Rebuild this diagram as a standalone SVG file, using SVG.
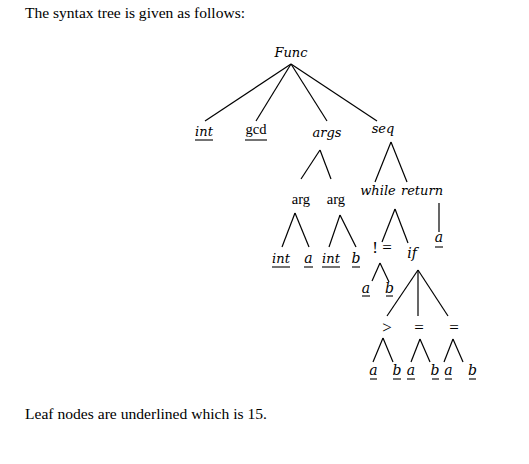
<svg xmlns="http://www.w3.org/2000/svg" width="529" height="464" viewBox="0 0 529 464">
<style>
.t{font-family:"Liberation Serif","Times New Roman",serif;font-size:14.5px;fill:#000}
.i{font-family:"DejaVu Serif",serif;font-style:italic;font-size:13px;fill:#000;text-anchor:middle}
.l{font-family:"DejaVu Serif",serif;font-style:italic;font-size:14px;fill:#000;text-anchor:middle}
.r{font-family:"Liberation Serif","Times New Roman",serif;font-size:14.5px;fill:#000;text-anchor:middle}
.s{font-family:"Liberation Serif","Times New Roman",serif;font-size:17px;fill:#000;text-anchor:middle}
.e line{stroke:#000;stroke-width:1.2;fill:none}
.u{stroke:#000;stroke-width:1.1}
</style>
<rect width="529" height="464" fill="#fff"/>
<text class="t" x="25" y="18" textLength="220" lengthAdjust="spacingAndGlyphs">The syntax tree is  given as follows:</text>
<text class="t" x="25" y="419" textLength="242" lengthAdjust="spacingAndGlyphs">Leaf nodes are underlined which is 15.</text>
<g class="e" id="connectors">
<line x1="291" y1="64" x2="205" y2="121"/>
<line x1="291" y1="64" x2="256" y2="121"/>
<line x1="291" y1="64" x2="327" y2="121"/>
<line x1="291" y1="64" x2="377" y2="121"/>
<line x1="320" y1="150" x2="301" y2="179"/>
<line x1="320" y1="150" x2="331" y2="179"/>
<line x1="295" y1="213" x2="282" y2="247"/>
<line x1="295" y1="213" x2="309" y2="247"/>
<line x1="340" y1="215" x2="329" y2="247"/>
<line x1="340" y1="215" x2="356" y2="247"/>
<line x1="391" y1="142" x2="375" y2="182"/>
<line x1="391" y1="142" x2="407" y2="182"/>
<line x1="395" y1="209" x2="382" y2="242"/>
<line x1="395" y1="209" x2="408" y2="243"/>
<line x1="439" y1="203" x2="439" y2="232"/>
<line x1="380" y1="263" x2="372" y2="281"/>
<line x1="380" y1="263" x2="389" y2="282"/>
<line x1="418" y1="270" x2="387" y2="316"/>
<line x1="418" y1="270" x2="418" y2="316"/>
<line x1="418" y1="270" x2="448" y2="316"/>
<line x1="383" y1="338" x2="373" y2="362"/>
<line x1="383" y1="338" x2="393" y2="362"/>
<line x1="420" y1="339" x2="411" y2="362"/>
<line x1="420" y1="339" x2="430" y2="362"/>
<line x1="453" y1="339" x2="444" y2="362"/>
<line x1="453" y1="339" x2="463" y2="362"/>
</g>
<g id="n-func"><text class="i" x="291" y="57">Func</text></g>
<g id="n-int1"><text class="i" x="204" y="136">int</text><line class="u" x1="195" y1="140" x2="213" y2="140"/></g>
<g id="n-gcd"><text class="r" x="256" y="134">gcd</text><line class="u" x1="245" y1="140" x2="267" y2="140"/></g>
<g id="n-args"><text class="i" x="327" y="137">args</text></g>
<g id="n-seq"><text class="i" x="383" y="133">seq</text></g>
<g id="n-arg1"><text class="r" x="301" y="204">arg</text></g>
<g id="n-arg2"><text class="r" x="336" y="204">arg</text></g>
<g id="n-int2"><text class="i" x="281" y="263">int</text><line class="u" x1="272" y1="267" x2="290" y2="267"/></g>
<g id="n-a1"><text class="l" x="308.5" y="263">a</text><line class="u" x1="304" y1="267" x2="313" y2="267"/></g>
<g id="n-int3"><text class="i" x="331" y="263">int</text><line class="u" x1="322" y1="267" x2="340" y2="267"/></g>
<g id="n-b1"><text class="l" x="356" y="263">b</text><line class="u" x1="352" y1="267" x2="360" y2="267"/></g>
<g id="n-while"><text class="i" x="378" y="195">while</text></g>
<g id="n-return"><text class="i" x="422" y="195">return</text></g>
<g id="n-a2"><text class="l" x="439" y="242">a</text><line class="u" x1="435" y1="247" x2="443" y2="247"/></g>
<g id="n-neq"><text class="s" x="382" y="253">! =</text></g>
<g id="n-if"><text class="l" x="412" y="258">if</text></g>
<g id="n-a3"><text class="l" x="366" y="293">a</text><line class="u" x1="362" y1="296" x2="370" y2="296"/></g>
<g id="n-b2"><text class="l" x="389.5" y="293">b</text><line class="u" x1="386" y1="296" x2="393" y2="296"/></g>
<g id="n-gt"><text class="s" x="387" y="333">&gt;</text></g>
<g id="n-eq1"><text class="s" x="419" y="333">=</text></g>
<g id="n-eq2"><text class="s" x="454" y="333">=</text></g>
<g id="n-a4"><text class="l" x="373.5" y="375">a</text><line class="u" x1="370" y1="379" x2="377" y2="379"/></g>
<g id="n-b3"><text class="l" x="397" y="375">b</text><line class="u" x1="393" y1="379" x2="401" y2="379"/></g>
<g id="n-a5"><text class="l" x="411" y="375">a</text><line class="u" x1="407" y1="379" x2="415" y2="379"/></g>
<g id="n-b4"><text class="l" x="435" y="375">b</text><line class="u" x1="432" y1="379" x2="439" y2="379"/></g>
<g id="n-a6"><text class="l" x="448.5" y="375">a</text><line class="u" x1="445" y1="379" x2="452" y2="379"/></g>
<g id="n-b5"><text class="l" x="472.5" y="375">b</text><line class="u" x1="469" y1="379" x2="476" y2="379"/></g>
</svg>
